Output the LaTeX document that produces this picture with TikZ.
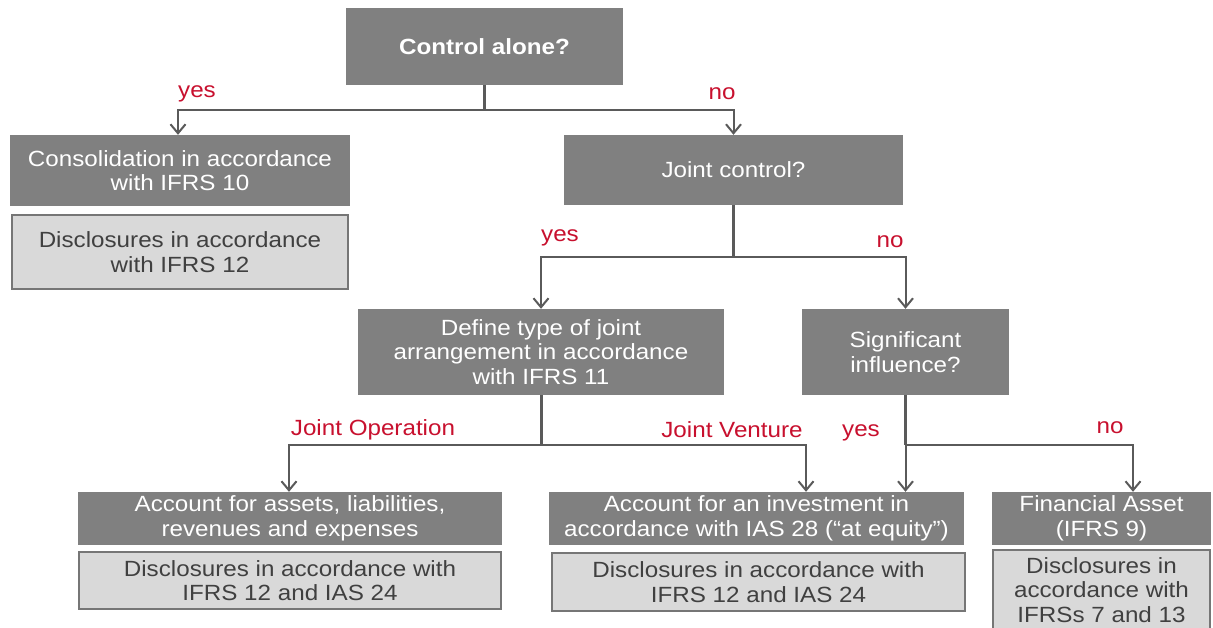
\documentclass[tikz,border=0pt]{standalone}
\usepackage{fontspec}
\setmainfont{Liberation Sans}[FakeStretch=1.1]
\usetikzlibrary{arrows.meta,calc}
\definecolor{boxdark}{RGB}{128,128,128}
\definecolor{boxlight}{RGB}{217,217,217}
\definecolor{edgegray}{RGB}{118,118,118}
\definecolor{conn}{RGB}{90,90,90}
\definecolor{labred}{RGB}{200,16,46}
\definecolor{txtdark}{RGB}{64,64,64}
\begin{document}
\begin{tikzpicture}[x=1pt,y=-1pt,
  font=\fontsize{22}{24.5}\selectfont,
  darkbox/.style={fill=boxdark,text=white,align=center,inner sep=0pt,draw=none},
  lightbox/.style={fill=boxlight,draw=edgegray,line width=2pt,text=txtdark,align=center,inner sep=0pt},
  conline/.style={draw=conn,line width=2pt},
  stem/.style={draw=conn,line width=3pt},
  arr/.style={conline,-{Straight Barb[length=9pt,width=15pt,line width=2pt]}},
  lbl/.style={text=labred,inner sep=0pt}]
\useasboundingbox[fill=white] (0,0) rectangle (1213,627);

% boxes
\node[darkbox,minimum width=277,minimum height=77] (ctrl) at (484.5,46.5) {\bfseries Control alone?};
\node[darkbox,minimum width=340,minimum height=71] (cons) at (180,170.5) {Consolidation in accordance\\with IFRS 10};
\node[lightbox,minimum width=336,minimum height=74] (dis1) at (180,252) {Disclosures in accordance\\with IFRS 12};
\node[darkbox,minimum width=339,minimum height=70] (joint) at (733.5,170) {Joint control?};
\node[darkbox,minimum width=366,minimum height=86] (define) at (541,352) {Define type of joint\\arrangement in accordance\\with IFRS 11};
\node[darkbox,minimum width=207,minimum height=86] (sig) at (905.5,352) {Significant\\influence?};
\node[darkbox,minimum width=424,minimum height=53] (accA) at (290,518.5) {Account for assets, liabilities,\\revenues and expenses};
\node[lightbox,minimum width=422,minimum height=57] (disA) at (290,580.5) {Disclosures in accordance with\\IFRS 12 and IAS 24};
\node[darkbox,minimum width=415,minimum height=53] (accI) at (756.5,518.5) {Account for an investment in\\accordance with IAS 28 (``at equity'')};
\node[lightbox,minimum width=413,minimum height=58] (disI) at (758.5,582) {Disclosures in accordance with\\IFRS 12 and IAS 24};
\node[darkbox,minimum width=219,minimum height=53] (fin) at (1101.5,518.5) {Financial Asset\\(IFRS 9)};
\node[lightbox,minimum width=217,minimum height=80] (disF) at (1101.5,590) {Disclosures in\\accordance with\\IFRSs 7 and 13};

% junctions
\coordinate (j1) at (484.5,110);
\coordinate (j2) at (733.5,257);
\coordinate (j3) at (541,445);
\coordinate (j4) at (905.5,445);

% connectors
\draw[stem] (ctrl.south) -- (j1);
\draw[arr] (j1) -| ([xshift=-2pt]cons.north);
\draw[arr] (j1) -| (joint.north);

\draw[stem] (joint.south) -- (j2);
\draw[arr] (j2) -| (define.north);
\draw[arr] (j2) -| (sig.north);

\draw[stem] (define.south) -- (j3);
\draw[arr] (j3) -| ([xshift=-1pt]accA.north);
\draw[arr] (j3) -| ([xshift=49.5pt]accI.north);

\draw[stem] (sig.south) -- (j4);
\draw[arr] (j4) -- (j4 |- accI.north);
\draw[arr] (j4) -| ([xshift=31.5pt]fin.north);

% labels
\node[lbl] (l1) at (197,94) {yes};
\node[lbl] (l2) at (722,94) {no};
\node[lbl] (l3) at (560,238) {yes};
\node[lbl] (l4) at (890,242) {no};
\node[lbl] (l5) at (373,430) {Joint Operation};
\node[lbl] (l6) at (732,430) {Joint Venture};
\node[lbl] (l7) at (861,433) {yes};
\node[lbl] (l8) at (1110,428) {no};
\end{tikzpicture}
\end{document}
